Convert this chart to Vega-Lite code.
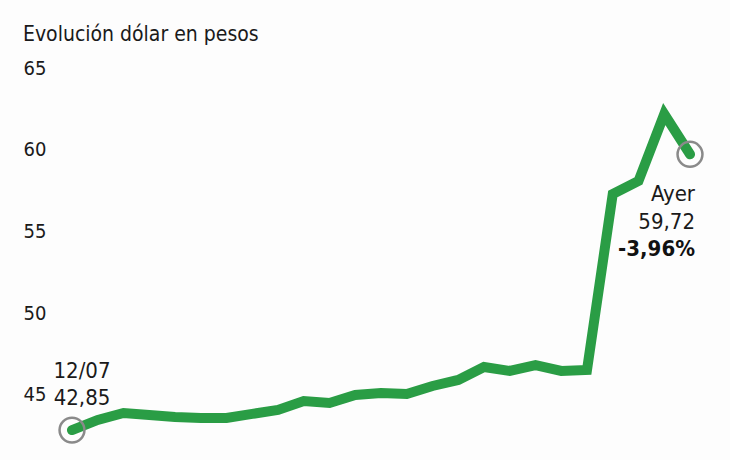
{
  "$schema": "https://vega.github.io/schema/vega-lite/v6.json",
  "description": "Evolución dólar en pesos",
  "autosize": "none",
  "width": 618,
  "height": 376,
  "padding": {"left": 72, "top": 68, "right": 40, "bottom": 16},
  "background": "#fdfdfd",
  "title": {
    "text": "Evolución dólar en pesos",
    "anchor": "start",
    "frame": "group",
    "dx": -49,
    "offset": 13,
    "fontSize": 21,
    "fontWeight": "normal",
    "font": "Liberation Sans Narrow, DejaVu Sans Condensed, Roboto",
    "color": "#1a1a1a"
  },
  "data": {
    "values": [
      {"fecha": "12/07", "valor": 42.85},
      {"fecha": "15/07", "valor": 43.47},
      {"fecha": "16/07", "valor": 43.9},
      {"fecha": "17/07", "valor": 43.78},
      {"fecha": "18/07", "valor": 43.65},
      {"fecha": "19/07", "valor": 43.59},
      {"fecha": "22/07", "valor": 43.59},
      {"fecha": "23/07", "valor": 43.84},
      {"fecha": "24/07", "valor": 44.08},
      {"fecha": "25/07", "valor": 44.63},
      {"fecha": "26/07", "valor": 44.51},
      {"fecha": "29/07", "valor": 45.0},
      {"fecha": "30/07", "valor": 45.12},
      {"fecha": "31/07", "valor": 45.06},
      {"fecha": "01/08", "valor": 45.55},
      {"fecha": "02/08", "valor": 45.92},
      {"fecha": "05/08", "valor": 46.71},
      {"fecha": "06/08", "valor": 46.47},
      {"fecha": "07/08", "valor": 46.83},
      {"fecha": "08/08", "valor": 46.47},
      {"fecha": "09/08", "valor": 46.53},
      {"fecha": "12/08", "valor": 57.29},
      {"fecha": "13/08", "valor": 58.09},
      {"fecha": "14/08", "valor": 62.18},
      {"fecha": "15/08", "valor": 59.72}
    ]
  },
  "encoding": {
    "x": {
      "field": "fecha",
      "type": "ordinal",
      "sort": null,
      "scale": {"type": "point", "padding": 0},
      "axis": null
    },
    "y": {
      "field": "valor",
      "type": "quantitative",
      "scale": {"domain": [42, 65], "nice": false, "zero": false},
      "axis": {
        "values": [45, 50, 55, 60, 65],
        "title": null,
        "domain": false,
        "ticks": false,
        "grid": false,
        "labelAlign": "left",
        "labelPadding": 49,
        "labelFontSize": 20,
        "labelFont": "Liberation Sans Narrow, DejaVu Sans Condensed, Roboto",
        "labelColor": "#1a1a1a"
      }
    }
  },
  "layer": [
    {
      "mark": {
        "type": "line",
        "color": "#2a9d45",
        "strokeWidth": 10,
        "strokeJoin": "miter",
        "strokeCap": "round"
      }
    },
    {
      "transform": [{"filter": "datum.fecha == '12/07' || datum.fecha == '15/08'"}],
      "mark": {
        "type": "point",
        "shape": "circle",
        "filled": false,
        "size": 620,
        "stroke": "#8a8a8a",
        "strokeWidth": 2.5,
        "opacity": 1
      }
    },
    {
      "transform": [{"filter": "datum.fecha == '12/07'"}],
      "mark": {
        "type": "text",
        "align": "center",
        "baseline": "alphabetic",
        "dx": 10,
        "dy": -52,
        "lineHeight": 27,
        "fontSize": 22,
        "font": "Liberation Sans Narrow, DejaVu Sans Condensed, Roboto",
        "color": "#1a1a1a"
      },
      "encoding": {"text": {"value": ["12/07", "42,85"]}}
    },
    {
      "transform": [{"filter": "datum.fecha == '15/08'"}],
      "mark": {
        "type": "text",
        "align": "right",
        "baseline": "alphabetic",
        "dx": 5,
        "dy": 47,
        "lineHeight": 28,
        "fontSize": 22,
        "font": "Liberation Sans Narrow, DejaVu Sans Condensed, Roboto",
        "color": "#1a1a1a"
      },
      "encoding": {"text": {"value": ["Ayer", "59,72"]}}
    },
    {
      "transform": [{"filter": "datum.fecha == '15/08'"}],
      "mark": {
        "type": "text",
        "align": "right",
        "baseline": "alphabetic",
        "dx": 5,
        "dy": 102,
        "fontSize": 22,
        "fontWeight": "bold",
        "font": "Liberation Sans Narrow, DejaVu Sans Condensed, Roboto",
        "color": "#111111"
      },
      "encoding": {"text": {"value": "-3,96%"}}
    }
  ],
  "config": {"view": {"stroke": null}}
}
